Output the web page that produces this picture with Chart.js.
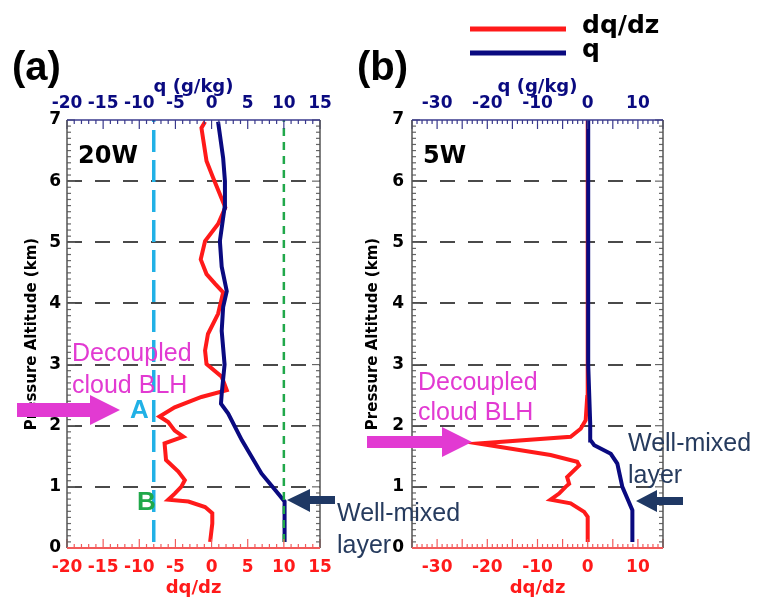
<!DOCTYPE html>
<html>
<head>
<meta charset="utf-8">
<script src="https://cdn.jsdelivr.net/npm/chart.js@4/dist/chart.umd.min.js"></script>
<style>
  body { margin: 0; background: #fff; }
  #wrap { position: relative; width: 766px; height: 601px; overflow: hidden; font-family: Arial, "Liberation Sans", sans-serif; }
  canvas { position: absolute; top: 0; }
  .t { position: absolute; white-space: nowrap; }
  .note { font-size: 25px; line-height: 32px; }
  .tag { font-family: "DejaVu Sans", sans-serif; font-weight: bold; font-size: 24px; line-height: 24px; color: #000; }
  .panel { font-weight: bold; font-size: 40px; line-height: 40px; color: #000; }
  .leg { font-family: "DejaVu Sans", sans-serif; font-weight: bold; font-size: 25px; line-height: 25px; color: #000; }
  svg { position: absolute; left: 0; top: 0; }
</style>
</head>
<body>
<div id="wrap">
  <canvas id="chartA" width="350" height="601" style="left:0"></canvas>
  <canvas id="chartB" width="416" height="601" style="left:350px"></canvas>

  <svg width="766" height="601">
    <!-- legend samples -->
    <line x1="470" y1="29" x2="566" y2="29" stroke="#ff1a1a" stroke-width="5"/>
    <line x1="470" y1="53" x2="566" y2="53" stroke="#0a0a80" stroke-width="5"/>
    <!-- magenta arrows -->
    <polygon points="17,403 90,403 90,395 120,410 90,425 90,417 17,417" fill="#e23ad2"/>
    <polygon points="367,436 442,436 442,427 472,442 442,457 442,448 367,448" fill="#e23ad2"/>
    <!-- navy arrows -->
    <polygon points="287,500 310,489 310,496 335,496 335,504 310,504 310,512" fill="#1f3864"/>
    <polygon points="636,501 657,490 657,497 683,497 683,505 657,505 657,512" fill="#1f3864"/>
  </svg>

  <div class="t leg" style="left:582px;top:12px">dq/dz</div>
  <div class="t leg" style="left:582px;top:36px">q</div>

  <div class="t panel" style="left:12px;top:46px">(a)</div>
  <div class="t panel" style="left:357px;top:46px">(b)</div>

  <div class="t tag" style="left:78px;top:143px">20W</div>
  <div class="t tag" style="left:423px;top:143px">5W</div>

  <div class="t note" style="left:72px;top:336px;color:#e23ad2">Decoupled<br>cloud BLH</div>
  <div class="t note" style="left:418px;top:366px;color:#e23ad2;line-height:30px">Decoupled<br>cloud BLH</div>

  <div class="t" style="left:130px;top:396px;font-weight:bold;font-size:26px;line-height:26px;color:#21b1e6">A</div>
  <div class="t" style="left:137px;top:488px;font-weight:bold;font-size:26px;line-height:26px;color:#20a84a">B</div>

  <div class="t note" style="left:337px;top:496px;color:#263b5e">Well-mixed<br>layer</div>
  <div class="t note" style="left:628px;top:426px;color:#263b5e">Well-mixed<br>layer</div>
</div>

<script>
// ---- panel (a) 20W ----
const altRedA = [0.1, 0.4, 0.57, 0.67, 0.76, 0.79, 0.89, 1.0, 1.11, 1.25, 1.44, 1.71, 1.82, 1.92, 2.06, 2.15, 2.3, 2.47, 2.58, 2.8, 3.01, 3.23, 3.5, 3.83, 4.18, 4.32, 4.48, 4.72, 5.02, 5.3, 5.57, 6.06, 6.33, 6.87, 6.97];
const dqdzA   = [-0.2, 0.1, 0.1, -0.9, -3.2, -6.0, -5.1, -4.2, -3.7, -4.6, -6.3, -6.5, -3.9, -5.1, -6.0, -7.2, -5.1, -1.4, 2.1, 1.4, -0.7, -0.9, -0.5, 0.9, 1.6, 0.5, -0.7, -1.5, -0.9, 0.9, 1.9, 0.2, -0.7, -1.4, -0.9];
const altBlueA = [0.1, 0.76, 0.95, 1.22, 1.76, 2.2, 2.36, 2.52, 3.0, 3.55, 3.94, 4.2, 4.6, 5.02, 5.57, 6.0, 6.38, 6.97];
const qA       = [10.1, 10.1, 8.8, 6.9, 4.2, 2.3, 1.3, 1.4, 1.8, 1.4, 1.6, 2.1, 1.4, 1.15, 1.8, 1.85, 1.6, 0.9];
const markerA = -8;   // dashed line through "A"
const markerB = 10;   // dashed line through "B"
const ticksA = [-20, -15, -10, -5, 0, 5, 10, 15];

// ---- panel (b) 5W ----
const altRedB = [0.1, 0.51, 0.59, 0.73, 0.79, 0.89, 1.0, 1.05, 1.16, 1.35, 1.41, 1.52, 1.71, 1.82, 1.95, 2.09, 2.47, 2.74, 7.0];
const dqdzB   = [0, 0, -0.7, -3.4, -7.4, -5.7, -4.4, -3.7, -4.1, -1.7, -2.1, -7.4, -21.8, -3.4, -1.4, -0.4, -0.1, 0, 0];
const altBlueB = [0.1, 0.62, 0.81, 1.0, 1.38, 1.54, 1.68, 1.76, 2.03, 3.0, 7.0];
const qB       = [8.9, 8.9, 7.9, 6.9, 5.9, 4.6, 1.3, 0.6, 0.5, 0.1, 0.1];
const ticksB = [-30, -20, -10, 0, 10];

const RED = '#ff1a1a', NAVY = '#0a0a80';
const tickFont = { family: 'DejaVu Sans', weight: 'bold', size: 17 };
const titleFont = { family: 'DejaVu Sans', weight: 'bold', size: 18 };

const toPts = (xs, ys) => xs.map((x, i) => ({ x: x, y: ys[i] }));

// inward minor/major ticks and coloured frame, IDL style
const frameTicks = {
  id: 'frameTicks',
  afterDraw(chart) {
    const { ctx, chartArea: a, scales } = chart;
    const seg = (x1, y1, x2, y2) => { ctx.beginPath(); ctx.moveTo(x1, y1); ctx.lineTo(x2, y2); ctx.stroke(); };
    ctx.save();
    ctx.lineWidth = 1.2;
    // y ticks on both sides
    ctx.strokeStyle = '#666';
    const y = scales.y;
    for (let i = 0; i <= 70; i++) {
      const p = y.getPixelForValue(i / 10);
      const len = i % 10 === 0 ? 8 : 4;
      seg(a.left, p, a.left + len, p);
      seg(a.right, p, a.right - len, p);
    }
    // x ticks, bottom (red) and top (navy)
    [['x', a.bottom, -1, '#f25a5a'], ['x2', a.top, 1, '#3a3a8c']].forEach(([id, base, dir, col]) => {
      const s = scales[id];
      ctx.strokeStyle = col;
      for (let v = Math.ceil(s.min); v <= s.max; v++) {
        const p = s.getPixelForValue(v);
        const len = v % 5 === 0 ? 9 : 4;
        seg(p, base, p, base + dir * len);
      }
    });
    // frame
    ctx.lineWidth = 1.5;
    ctx.strokeStyle = '#555';
    seg(a.left, a.top, a.left, a.bottom);
    seg(a.right, a.top, a.right, a.bottom);
    ctx.strokeStyle = '#3a3a8c';
    seg(a.left, a.top, a.right, a.top);
    ctx.strokeStyle = '#f25a5a';
    ctx.lineWidth = 2;
    seg(a.left, a.bottom, a.right, a.bottom);
    ctx.restore();
  }
};

function xScale(pos, min, max, tickVals, color, title, fit, tickPad, titlePad) {
  return {
    type: 'linear', position: pos, min: min, max: max,
    afterBuildTicks: s => { s.ticks = tickVals.map(v => ({ value: v })); },
    afterFit: s => { s.height = fit; },
    grid: { display: false, drawTicks: false },
    border: { display: false },
    ticks: { color: color, font: tickFont, padding: tickPad, autoSkip: false, maxRotation: 0, minRotation: 0 },
    title: { display: true, text: title, color: color, font: titleFont, padding: titlePad }
  };
}

function makePanel(id, red, blue, extra, xmin, xmax, tickVals, yWidth, yTitlePad, yTickPad, padRight) {
  // lower order is drawn on top: q above dq/dz above the marker lines
  const datasets = [
    { data: blue, borderColor: NAVY, borderWidth: 4, xAxisID: 'x2', order: 0 },
    { data: red, borderColor: RED, borderWidth: 4, xAxisID: 'x', order: 1 }
  ].concat(extra);
  datasets.forEach(d => { d.showLine = true; d.pointRadius = 0; d.fill = false; d.tension = 0; });
  return new Chart(document.getElementById(id), {
    type: 'scatter',
    data: { datasets: datasets },
    options: {
      responsive: false,
      animation: false,
      events: [],
      layout: { padding: { left: 0, right: padRight, top: 0, bottom: 0 } },
      plugins: { legend: { display: false }, tooltip: { enabled: false } },
      scales: {
        x: xScale('bottom', xmin, xmax, tickVals, RED, 'dq/dz', 53, 9, { top: 0, bottom: 2 }),
        x2: xScale('top', xmin, xmax, tickVals, NAVY, 'q (g/kg)', 120, 6, { top: 77, bottom: 0 }),
        y: {
          type: 'linear', position: 'left', min: 0, max: 7,
          afterFit: s => { s.width = yWidth; },
          ticks: { stepSize: 1, color: '#000', font: tickFont, padding: yTickPad },
          grid: {
            drawTicks: false, lineWidth: 2,
            color: c => (c.tick.value > 0 && c.tick.value < 7) ? '#4a4a4a' : 'rgba(0,0,0,0)'
          },
          border: { display: false, dash: [15, 13] },
          title: { display: true, text: 'Pressure Altitude (km)', color: '#000',
                   font: { family: 'DejaVu Sans', weight: 'bold', size: 15 }, padding: { top: yTitlePad, bottom: 0 } }
        }
      }
    },
    plugins: [frameTicks]
  });
}

// cyan line sits behind the profiles, green dashes show over the mixed-layer q
const markerLines = [
  { data: toPts([markerA, markerA], [0.1, 7]), borderColor: '#21b1e6', borderWidth: 3.5, borderDash: [22, 8], xAxisID: 'x', order: 2 },
  { data: toPts([markerB, markerB], [0.1, 7]), borderColor: '#20a84a', borderWidth: 2.5, borderDash: [8, 6], xAxisID: 'x', order: -1 }
];

makePanel('chartA', toPts(dqdzA, altRedA), toPts(qA, altBlueA), markerLines, -20, 15, ticksA, 67, 23, 6, 30);
makePanel('chartB', toPts(dqdzB, altRedB), toPts(qB, altBlueB), [], -35, 15, ticksB, 62, 14, 8, 103);
</script>
</body>
</html>
